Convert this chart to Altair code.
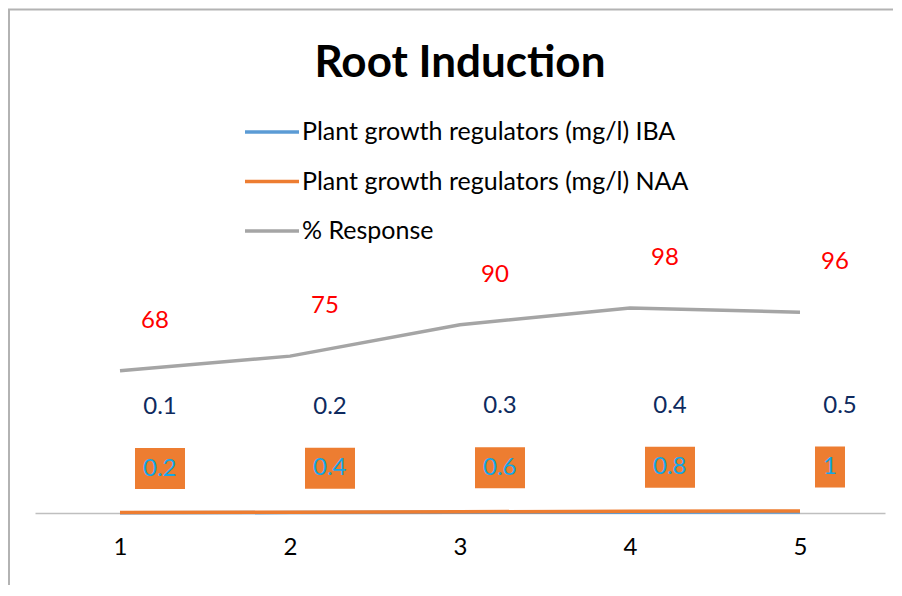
import altair as alt
import pandas as pd

# ---- data ----
categories = [1, 2, 3, 4, 5]
iba = [0.1, 0.2, 0.3, 0.4, 0.5]
naa = [0.2, 0.4, 0.6, 0.8, 1.0]
response = [68, 75, 90, 98, 96]
naa_labels = ["0.2", "0.4", "0.6", "0.8", "1"]
iba_labels = ["0.1", "0.2", "0.3", "0.4", "0.5"]
series_names = [
    "Plant growth regulators (mg/l) IBA",
    "Plant growth regulators (mg/l) NAA",
    "% Response",
]
series_colors = ["#5B9BD5", "#ED7D31", "#A5A5A5"]

rows = []
for name, vals in zip(series_names, [iba, naa, response]):
    for c, v in zip(categories, vals):
        rows.append({"cat": c, "value": v, "series": name})
long_df = pd.DataFrame(rows)
wide = pd.DataFrame({
    "cat": categories, "iba": iba, "naa": naa, "response": response,
    "naa_label": naa_labels, "iba_label": iba_labels,
})
one = pd.DataFrame({"k": [0]})

W, H = 850, 251
FONT = "Lato"
FS = 24

x = alt.X(
    "cat:Q",
    scale=alt.Scale(domain=[0.5, 5.5], nice=False, zero=False),
    axis=alt.Axis(
        values=categories, format="d", title=None, grid=False, ticks=False,
        domainColor="#BFBFBF", domainWidth=1.5,
        labelFont=FONT, labelFontSize=FS, labelColor="#000000", labelPadding=22,
    ),
)
y_scale = alt.Scale(domain=[0, 120], nice=False)

lines = alt.Chart(long_df).mark_line(strokeWidth=3.5).encode(
    x=x,
    y=alt.Y("value:Q", scale=y_scale, axis=None),
    color=alt.Color(
        "series:N",
        scale=alt.Scale(domain=series_names, range=series_colors),
        sort=series_names,
        legend=alt.Legend(
            title=None, orient="none", legendX=208, legendY=-159,
            symbolType="stroke", symbolSize=2916, symbolStrokeWidth=3.5,
            labelFont=FONT, labelFontSize=25, labelColor="#000000",
            labelOffset=1, rowPadding=7.5, labelLimit=700,
        ),
    ),
    detail="series:N",
)

resp_labels = alt.Chart(wide).mark_text(
    font=FONT, fontSize=FS, color="#FF0000", dx=35, dy=-50, baseline="middle"
).encode(x=x, y=alt.Y("response:Q", scale=y_scale, axis=None), text="response:Q")

iba_text = alt.Chart(wide).mark_text(
    font=FONT, fontSize=FS, color="#0E2A5E", dx=40, dy=-106, baseline="middle"
).encode(x=x, y=alt.Y("iba:Q", scale=y_scale, axis=None), text="iba_label:N")

naa_boxes = alt.Chart(wide).mark_rect(
    color="#ED7D31",
    xOffset=15,
    x2Offset=alt.ExprRef("35 + 10*length(datum.naa_label)"),
    yOffset=-64.5, y2Offset=-23.5,
).encode(
    x=x, x2="cat:Q",
    y=alt.Y("naa:Q", scale=y_scale, axis=None), y2="naa:Q",
)

naa_text = alt.Chart(wide).mark_text(
    font=FONT, fontSize=FS, color="#14A6E8", dx=23, dy=-44, align="left", baseline="middle"
).encode(x=x, y=alt.Y("naa:Q", scale=y_scale, axis=None), text="naa_label:N")

frame_left = alt.Chart(one).mark_rule(color="#B3B3B3", strokeWidth=2).encode(
    x=alt.value(-26), y=alt.value(-252.5), y2=alt.value(H + 80)
)
frame_top = alt.Chart(one).mark_rule(color="#B3B3B3", strokeWidth=2).encode(
    x=alt.value(-27), x2=alt.value(W + 20), y=alt.value(-252.5)
)

chart = alt.layer(
    frame_left, frame_top, lines, resp_labels, iba_text, naa_boxes, naa_text
).properties(
    width=W, height=H,
    title=alt.TitleParams(
        "Root Induction", font=FONT, fontSize=44, fontWeight="bold", color="#000000",
        anchor="middle", frame="group", offset=-112, baseline="alphabetic",
    ),
    autosize=alt.AutoSizeParams(type="none"),
    padding={"left": 27, "top": 254, "right": 8, "bottom": 72},
).configure(background="#FFFFFF").configure_view(stroke=None, strokeWidth=0)

chart.save("out.html", embed_options={"renderer": "svg", "actions": False})
